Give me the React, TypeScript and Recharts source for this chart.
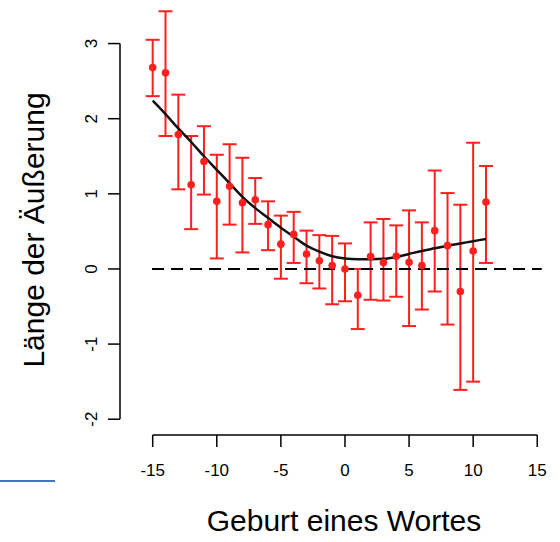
import React from "react";
import {
  ComposedChart,
  Scatter,
  Line,
  XAxis,
  YAxis,
  ErrorBar,
  ReferenceLine,
} from "recharts";

const positions = [-15, -14, -13, -12, -11, -10, -9, -8, -7, -6, -5, -4, -3, -2, -1, 0, 1, 2, 3, 4, 5, 6, 7, 8, 9, 10, 11];
const means = [2.68, 2.61, 1.79, 1.12, 1.43, 0.9, 1.1, 0.88, 0.92, 0.59, 0.33, 0.46, 0.2, 0.11, 0.045, 0.0, -0.35, 0.165, 0.085, 0.17, 0.09, 0.045, 0.51, 0.31, -0.3, 0.24, 0.89];
const lows = [2.3, 1.77, 1.06, 0.53, 0.99, 0.14, 0.59, 0.22, 0.6, 0.25, -0.13, 0.08, -0.19, -0.26, -0.47, -0.43, -0.8, -0.41, -0.42, -0.37, -0.76, -0.54, -0.3, -0.74, -1.61, -1.5, 0.08];
const highs = [3.05, 3.43, 2.32, 1.77, 1.9, 1.52, 1.66, 1.48, 1.21, 0.9, 0.71, 0.76, 0.51, 0.45, 0.44, 0.34, 0.0, 0.62, 0.665, 0.58, 0.78, 0.62, 1.31, 1.01, 0.855, 1.68, 1.37];
const fitted = [2.24, 2.06, 1.87, 1.69, 1.5, 1.32, 1.14, 0.96, 0.81, 0.68, 0.55, 0.43, 0.31, 0.23, 0.17, 0.14, 0.13, 0.13, 0.135, 0.16, 0.2, 0.24, 0.275, 0.31, 0.34, 0.37, 0.4];

const xTicks = [-15, -10, -5, 0, 5, 10, 15];
const yTicks = [-2, -1, 0, 1, 2, 3];

const X_DOMAIN: [number, number] = [-17.55, 16.15];
const Y_DOMAIN: [number, number] = [-2.21, 3.5];

const xTitle = "Geburt eines Wortes";
const yTitle = "Länge der Äußerung";

const data = positions.map((x, i) => ({
  x,
  y: means[i],
  err: [means[i] - lows[i], highs[i] - means[i]],
  fit: fitted[i],
}));

const RED = "#ff1f1f";
const FONT = "'Liberation Sans', Arial, sans-serif";

const XTick = (props: any) => {
  const { x, y, payload } = props;
  return (
    <g>
      <line x1={x} y1={y} x2={x} y2={y + 12} stroke="#000" strokeWidth={1.5} />
      <text x={x} y={y + 41} textAnchor="middle" fontSize={17} fontFamily={FONT} fill="#000">
        {payload.value}
      </text>
    </g>
  );
};

const YTick = (props: any) => {
  const { x, y, payload } = props;
  return (
    <g>
      <line x1={x} y1={y} x2={x - 12} y2={y} stroke="#000" strokeWidth={1.5} />
      <text
        x={x - 23}
        y={y}
        transform={`rotate(-90 ${x - 23} ${y})`}
        textAnchor="middle"
        fontSize={17}
        fontFamily={FONT}
        fill="#000"
      >
        {payload.value}
      </text>
    </g>
  );
};

const Dot = (props: any) => {
  const { cx, cy } = props;
  return <circle cx={cx} cy={cy} r={3.8} fill={RED} />;
};

export default function App() {
  return (
    <div style={{ position: "absolute", left: 0, top: 0, width: 560, height: 542, background: "#fff" }}>
      <div style={{ position: "absolute", left: 0, top: 480, width: 55, height: 2, background: "#4472c4" }} />
      <ComposedChart
        width={560}
        height={542}
        data={data}
        margin={{ top: 6, right: 8, bottom: 0, left: 0 }}
      >
        <XAxis
          dataKey="x"
          type="number"
          domain={X_DOMAIN}
          ticks={xTicks}
          axisLine={false}
          tickLine={false}
          tickSize={0}
          tickMargin={0}
          height={107}
          tick={<XTick />}
          interval={0}
          allowDataOverflow
          label={{
            content: () => (
              <text x={344} y={531} textAnchor="middle" fontSize={30} fontFamily={FONT} fill="#000">
                {xTitle}
              </text>
            ),
          }}
        />
        <YAxis
          type="number"
          domain={Y_DOMAIN}
          ticks={yTicks}
          axisLine={false}
          tickLine={false}
          tickSize={0}
          tickMargin={0}
          width={120}
          tick={<YTick />}
          interval={0}
          allowDataOverflow
          label={{
            content: () => (
              <text
                x={43.5}
                y={230}
                transform="rotate(-90 43.5 230)"
                textAnchor="middle"
                fontSize={30}
                fontFamily={FONT}
                fill="#000"
              >
                {yTitle}
              </text>
            ),
          }}
        />
        <ReferenceLine
          segment={[{ x: X_DOMAIN[0], y: yTicks[0] }, { x: X_DOMAIN[0], y: yTicks[yTicks.length - 1] }]}
          stroke="#000"
          strokeWidth={1.5}
          ifOverflow="visible"
        />
        <ReferenceLine
          segment={[{ x: xTicks[0], y: Y_DOMAIN[0] }, { x: xTicks[xTicks.length - 1], y: Y_DOMAIN[0] }]}
          stroke="#000"
          strokeWidth={1.5}
          ifOverflow="visible"
        />
        <Scatter dataKey="y" shape={<Dot />} isAnimationActive={false}>
          <ErrorBar dataKey="err" direction="y" width={7} stroke={RED} strokeWidth={2} isAnimationActive={false} />
        </Scatter>
        <ReferenceLine
          segment={[{ x: -15.05, y: 0 }, { x: 15.35, y: 0 }]}
          stroke="#000"
          strokeWidth={2}
          strokeDasharray="12 7"
          ifOverflow="visible"
        />
        <Line
          dataKey="fit"
          type="monotone"
          stroke="#111"
          strokeWidth={2.5}
          dot={false}
          activeDot={false}
          isAnimationActive={false}
        />
      </ComposedChart>
    </div>
  );
}
